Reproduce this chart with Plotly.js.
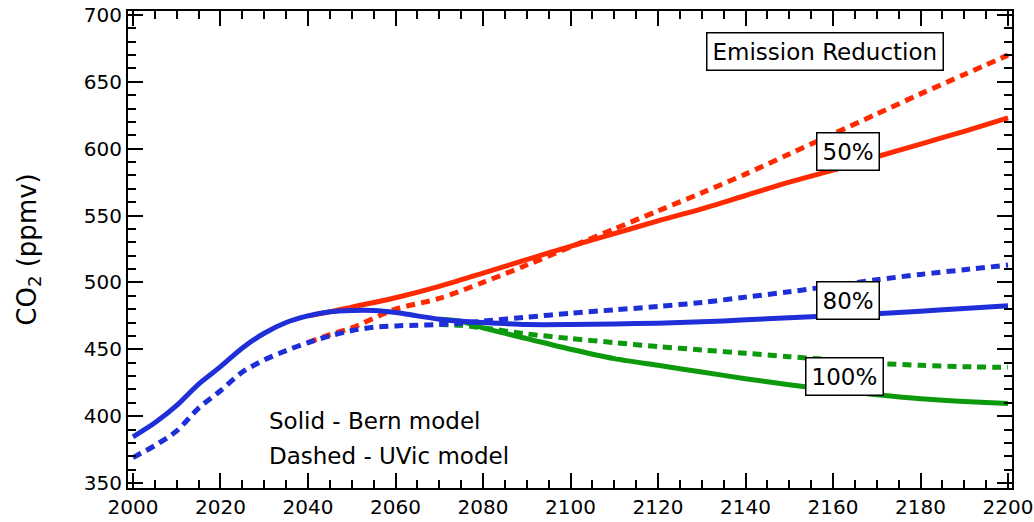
<!DOCTYPE html>
<html>
<head>
<meta charset="utf-8">
<script src="https://cdn.plot.ly/plotly-3.0.1.min.js"></script>
<style>html,body{margin:0;padding:0;background:#fff;}#chart{width:1034px;height:522px;}</style>
</head>
<body>
<div id="chart"></div>
<script>
// Years and CO2 (ppmv) series
const yearsFull = [2000,2005,2010,2015,2020,2025,2030,2035,2040,2045,2050,2055,2060,2065,2070,2075,2080,2090,2100,2110,2120,2130,2140,2150,2160,2170,2180,2190,2200];
const bern80  = [384.5,395,408,424,437,451,462,470,475,478,479,479,477.5,475,472.5,471,470,468.5,468.5,469,469.5,470.5,472,473.5,475,476.5,478.5,480.5,482.5];
const uvic80  = [369,378,389,406,419,433,442,449,455,460,464,466.5,467.5,468,468.5,469.5,471,474,477,479.5,482,485,489,493,497.5,502,506,509.5,513];

const years50 = [2040,2045,2050,2060,2070,2080,2090,2100,2110,2120,2130,2140,2150,2160,2170,2180,2190,2200];
const bern50  = [475,478,481.5,488.5,497,507,517,527,536.5,546,555,565,575,584,594,603.5,613,623];
const uvic50  = [455,461,466,480,488,500,513,526.5,540,553.5,567,581,596,611,626,641,655.5,670];

const years100 = [2070,2075,2080,2090,2100,2110,2120,2130,2140,2150,2160,2170,2180,2190,2200];
const bern100  = [472.5,471,466,458,450,443,438,433,428,423.5,419.5,416,413,411,409.5];
const uvic100  = [468.5,468,466,461.5,458,455,452,449.5,447,444.5,442,439.5,438,437,436.5];

const RED = '#ff2a00', BLUE = '#1f2fd8', GREEN = '#0c990c';
const DASH = '9px,6px';

function tr(x, y, color, dashed, name) {
  return {
    x: x, y: y, type: 'scatter', mode: 'lines', name: name,
    line: {color: color, width: 5, dash: dashed ? DASH : 'solid', shape: 'spline', smoothing: 0.8},
    hoverinfo: 'x+y'
  };
}

const data = [
  tr(years50, uvic50, RED, true, '50% UVic'),
  tr(years50, bern50, RED, false, '50% Bern'),
  tr(years100, uvic100, GREEN, true, '100% UVic'),
  tr(years100, bern100, GREEN, false, '100% Bern'),
  tr(yearsFull, uvic80, BLUE, true, '80% UVic'),
  tr(yearsFull, bern80, BLUE, false, '80% Bern')
];

const FONT = 'DejaVu Sans, Verdana, sans-serif';

function boxAnn(text, x, y) {
  return {text: text, x: x, y: y, xref: 'paper', yref: 'paper', showarrow: false,
    xanchor: 'center', yanchor: 'middle', font: {family: FONT, size: 23, color: '#000'},
    bgcolor: '#fff', bordercolor: '#000', borderwidth: 1.5, borderpad: 5};
}

const layout = {
  width: 1034, height: 522,
  margin: {l: 128, r: 22, t: 11, b: 34},
  paper_bgcolor: '#fff', plot_bgcolor: '#fff',
  showlegend: false,
  font: {family: FONT, color: '#000'},
  xaxis: {
    range: [1998.86, 2200.91], tick0: 2000, dtick: 20,
    ticks: 'inside', ticklen: 15, tickwidth: 2, tickcolor: '#000',
    showline: true, linecolor: '#000', linewidth: 2, mirror: 'ticks',
    showgrid: false, zeroline: false,
    tickfont: {family: FONT, size: 20, color: '#000'},
    minor: {dtick: 5, ticks: 'inside', ticklen: 8, tickwidth: 2, tickcolor: '#000', showgrid: false}
  },
  yaxis: {
    range: [346.26, 702.99], tick0: 350, dtick: 50,
    ticks: 'inside', ticklen: 15, tickwidth: 2, tickcolor: '#000',
    showline: true, linecolor: '#000', linewidth: 2, mirror: 'ticks',
    showgrid: false, zeroline: false,
    tickfont: {family: FONT, size: 20, color: '#000'},
    minor: {dtick: 10, ticks: 'inside', ticklen: 8, tickwidth: 2, tickcolor: '#000', showgrid: false},
    title: {text: 'CO<sub>2</sub> (ppmv)', font: {family: FONT, size: 26, color: '#000'}, standoff: 40}
  },
  annotations: [
    boxAnn('Emission Reduction', 0.7885, 0.9151),
    boxAnn('50%', 0.8150, 0.7055),
    boxAnn('80%', 0.8150, 0.3931),
    boxAnn('100%', 0.8105, 0.2348),
    {text: 'Solid - Bern model', x: 0.1572, y: 0.1405, xref: 'paper', yref: 'paper', showarrow: false,
     xanchor: 'left', yanchor: 'middle', font: {family: FONT, size: 23, color: '#000'}},
    {text: 'Dashed - UVic model', x: 0.1572, y: 0.0671, xref: 'paper', yref: 'paper', showarrow: false,
     xanchor: 'left', yanchor: 'middle', font: {family: FONT, size: 23, color: '#000'}}
  ]
};

Plotly.newPlot('chart', data, layout, {displayModeBar: false, staticPlot: true});
</script>
</body>
</html>
